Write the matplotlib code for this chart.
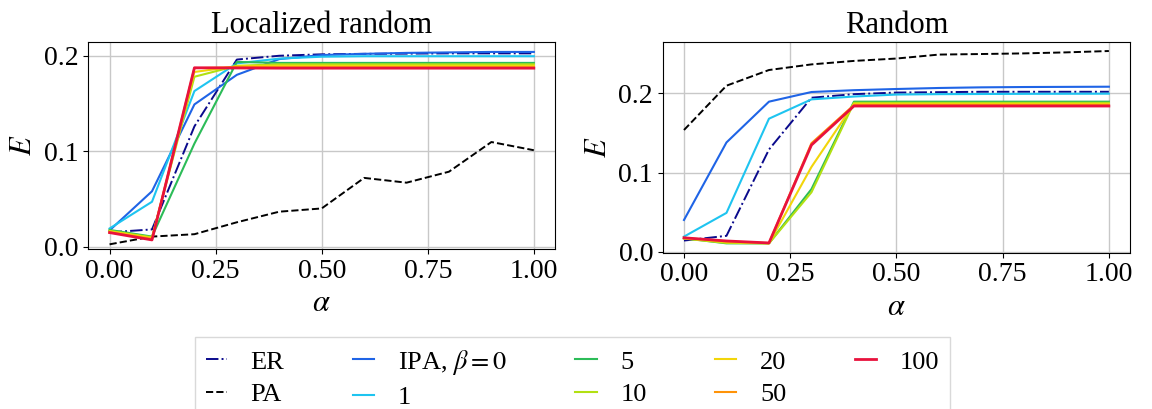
import matplotlib
matplotlib.use("Agg")
import matplotlib.pyplot as plt
import numpy as np

plt.rcParams['font.family'] = ['Liberation Serif', 'DejaVu Serif']
plt.rcParams['mathtext.fontset'] = 'stix'

# --- DATOS ---

alpha = [0.0, 0.1, 0.2, 0.3, 0.4, 0.5, 0.6, 0.7, 0.8, 0.9, 1.0]

etiquetas = ["ER", "PA", r"IPA, $\beta=0$", "1", "5", "10", "20", "50", "100"]

# Localized random
loc_er = [0.015, 0.018, 0.126, 0.196, 0.200, 0.2015, 0.202, 0.2022, 0.2025, 0.2025, 0.2025]
loc_pa = [0.0024, 0.0105, 0.013, 0.0255, 0.0366, 0.040, 0.072, 0.067, 0.0785, 0.1096, 0.101]
loc_b0 = [0.017, 0.058, 0.149, 0.180, 0.1965, 0.2007, 0.202, 0.203, 0.2035, 0.204, 0.204]
loc_b1 = [0.019, 0.047, 0.163, 0.192, 0.197, 0.199, 0.1995, 0.1995, 0.1995, 0.1995, 0.1995]
loc_b5 = [0.0175, 0.0105, 0.108, 0.1935, 0.1925, 0.1925, 0.1925, 0.1925, 0.1925, 0.1925, 0.1925]
loc_b10 = [0.0165, 0.0098, 0.178, 0.1895, 0.191, 0.191, 0.191, 0.191, 0.191, 0.191, 0.191]
loc_b20 = [0.016, 0.009, 0.183, 0.189, 0.1895, 0.1895, 0.1895, 0.1895, 0.1895, 0.1895, 0.1895]
loc_b50 = [0.015, 0.008, 0.187, 0.188, 0.188, 0.188, 0.188, 0.188, 0.188, 0.188, 0.188]
loc_b100 = [0.0147, 0.007, 0.1874, 0.1872, 0.187, 0.187, 0.187, 0.187, 0.187, 0.187, 0.187]

# Random
ran_er = [0.014, 0.020, 0.129, 0.1945, 0.199, 0.201, 0.2015, 0.202, 0.202, 0.202, 0.202]
ran_pa = [0.1537, 0.2097, 0.2295, 0.2366, 0.241, 0.244, 0.249, 0.2497, 0.2505, 0.2518, 0.2535]
ran_b0 = [0.040, 0.138, 0.1895, 0.2017, 0.204, 0.2055, 0.2068, 0.2076, 0.208, 0.2082, 0.2084]
ran_b1 = [0.019, 0.049, 0.168, 0.1924, 0.196, 0.1985, 0.199, 0.1992, 0.1994, 0.1995, 0.1996]
ran_b5 = [0.017, 0.0105, 0.0105, 0.079, 0.1895, 0.1895, 0.1895, 0.1895, 0.1895, 0.1895, 0.1895]
ran_b10 = [0.0165, 0.011, 0.0105, 0.075, 0.188, 0.188, 0.188, 0.188, 0.188, 0.188, 0.188]
ran_b20 = [0.017, 0.012, 0.0105, 0.107, 0.1865, 0.1865, 0.1865, 0.1865, 0.1865, 0.1865, 0.1865]
ran_b50 = [0.0175, 0.013, 0.0108, 0.137, 0.1853, 0.1853, 0.1853, 0.1853, 0.1853, 0.1853, 0.1853]
ran_b100 = [0.0175, 0.0135, 0.011, 0.1347, 0.184, 0.184, 0.184, 0.184, 0.184, 0.184, 0.184]

colores_ipa = ['#1f64e6', '#1ec4f0', '#2cbc58', '#b2e012', '#f2d50a', '#ff9308', '#e8123c']


def dibujar(ax, er, pa, ipa, titulo, ylim):
    ax.plot(alpha, er, color='#0a0a8c', linestyle='-.', linewidth=1.4, label=etiquetas[0])
    ax.plot(alpha, pa, color='black', linestyle='--', linewidth=1.4, label=etiquetas[1])
    for i, serie in enumerate(ipa):
        lw = 2.0 if i == len(ipa) - 1 else 1.5
        ax.plot(alpha, serie, color=colores_ipa[i], linewidth=lw, label=etiquetas[i + 2])
    ax.set_title(titulo, fontsize=22)
    ax.set_xlabel(r"$\alpha$", fontsize=22)
    ax.set_ylabel(r"$E$", fontsize=22)
    ax.set_xticks([0.0, 0.25, 0.5, 0.75, 1.0])
    ax.set_yticks([0.0, 0.1, 0.2])
    ax.set_ylim(*ylim)
    ax.tick_params(labelsize=20)
    ax.grid(True, color='#c8c8c8', linewidth=1.0)
    ax.set_axisbelow(True)


fig = plt.figure(figsize=(11.52, 4.09), dpi=100)
ax1 = fig.add_axes([0.0767, 0.3912, 0.4051, 0.5068])
ax2 = fig.add_axes([0.5753, 0.3822, 0.4057, 0.5159])

dibujar(ax1, loc_er, loc_pa,
        [loc_b0, loc_b1, loc_b5, loc_b10, loc_b20, loc_b50, loc_b100],
        "Localized random", (-0.0025, 0.2147))
dibujar(ax2, ran_er, ran_pa,
        [ran_b0, ran_b1, ran_b5, ran_b10, ran_b20, ran_b50, ran_b100],
        "Random", (-0.0013, 0.2653))

handles, labels = ax1.get_legend_handles_labels()
fig.legend(handles, labels, ncol=5, loc='upper center', bbox_to_anchor=(0.497, 0.176),
           borderaxespad=0, fontsize=19, handlelength=0.8, columnspacing=2.6,
           labelspacing=0.35, handletextpad=0.9, fancybox=False, edgecolor='#d0d0d0',
           borderpad=0.4)

fig.savefig("out.png", dpi=100)
